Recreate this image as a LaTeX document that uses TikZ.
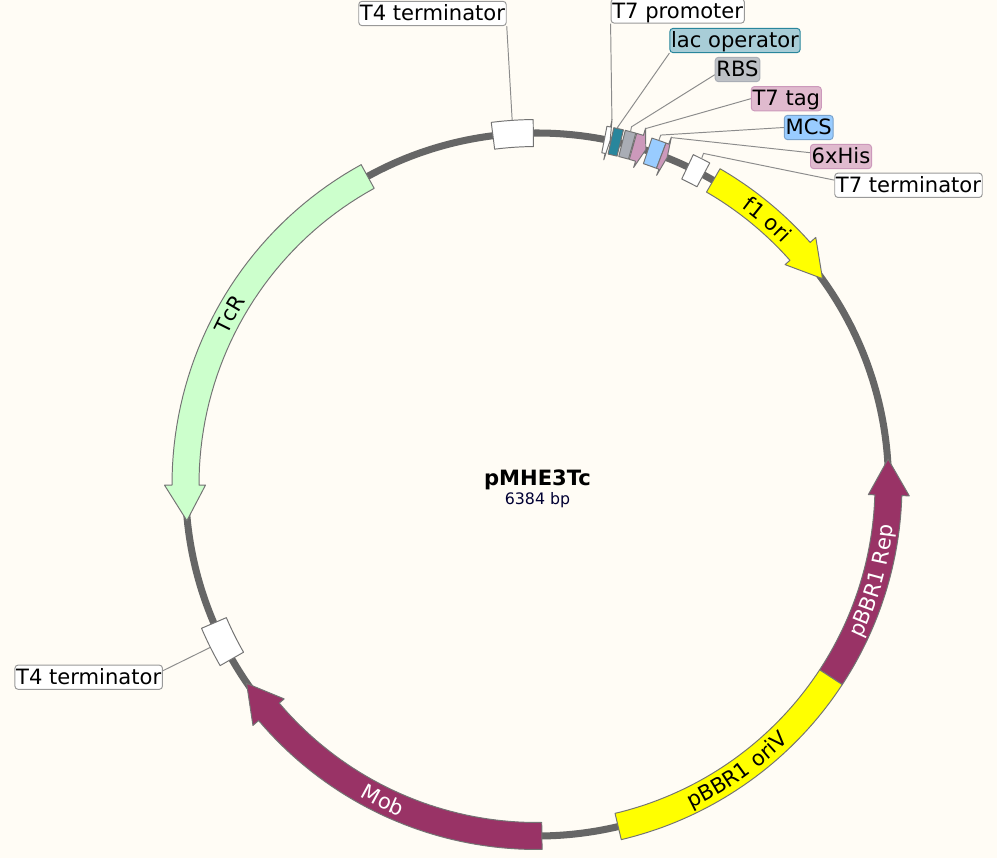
\documentclass[tikz,border=0pt]{standalone}
\usepackage{fontspec}
\setmainfont{DejaVu Sans}
\usetikzlibrary{decorations.text}
\definecolor{mPaper}{RGB}{255,252,245}
\definecolor{mBack}{RGB}{102,102,102}
\definecolor{mPurple}{RGB}{153,51,102}
\definecolor{mGreen}{RGB}{204,255,204}
\definecolor{mYellow}{RGB}{255,255,0}
\definecolor{mTeal}{RGB}{41,134,156}
\definecolor{mTealLt}{RGB}{168,205,215}
\definecolor{mGrey}{RGB}{169,173,181}
\definecolor{mGreyLt}{RGB}{190,193,198}
\definecolor{mPink}{RGB}{204,153,187}
\definecolor{mPinkLt}{RGB}{224,186,206}
\definecolor{mSky}{RGB}{153,204,255}
\definecolor{mNavy}{RGB}{0,0,51}
\newcommand{\featfont}{\fontsize{12pt}{14pt}\selectfont}
\tikzset{
  backln/.style={line width=4pt, mBack},
  featln/.style={line width=0.55pt, draw=black!55, line join=round},
  leader/.style={line width=0.55pt, black!45},
  plasmidlbl/.style={draw=black!40, line width=0.55pt, rounded corners=1.8pt, fill=white,
    font=\featfont, inner xsep=0.7pt, inner ysep=0pt, minimum height=13.8pt,
    text height=9.5pt, text depth=1.3pt},
}
\newcommand{\gx}[2]{537+(#1)*cos(#2)}
\newcommand{\gy}[2]{484.5-(#1)*sin(#2)}
% fill, start angle, end angle
\newcommand{\boxfeat}[3]{%
  \draw[featln, fill=#1]
    plot[domain=#2:#3, samples=40] ({\gx{338}{\x}},{\gy{338}{\x}})
    -- plot[domain=#3:#2, samples=40] ({\gx{365}{\x}},{\gy{365}{\x}}) -- cycle;
}
% fill, start angle, head base angle, tip angle
\newcommand{\arrowfeat}[4]{%
  \draw[featln, fill=#1]
    plot[domain=#2:#3, samples=40] ({\gx{338}{\x}},{\gy{338}{\x}})
    -- ({\gx{331.5}{#3}},{\gy{331.5}{#3}}) -- ({\gx{352}{#4}},{\gy{352}{#4}})
    -- ({\gx{372.5}{#3}},{\gy{372.5}{#3}})
    -- plot[domain=#3:#2, samples=40] ({\gx{365}{\x}},{\gy{365}{\x}}) -- cycle;
}
% colour, baseline radius, start angle, end angle, text
\newcommand{\feattext}[5]{%
  \path[decorate, decoration={text along path, text align=center,
      text={|\featfont\color{#1}|#5}}]
    plot[domain=#3:#4, samples=50] ({\gx{#2}{\x}},{\gy{#2}{\x}});
}

\begin{document}
\begin{tikzpicture}[x=0.02cm,y=-0.02cm]
    \useasboundingbox (0,0) rectangle (997,858);
    \fill[mPaper] (0,0) rectangle (997,858);
    % backbone
    \draw[backln] (537,484.5) circle[radius=351.5];
    % large features
    \arrowfeat{mYellow}{59.9}{41.55}{35.8}
    \arrowfeat{mPurple}{-33.25}{-1.75}{4.15}
    \boxfeat{mYellow}{-76.65}{-33.25}
    \arrowfeat{mPurple}{-89.2}{-139.7}{-145.6}
    \arrowfeat{mGreen}{118.8}{180.1}{185.9}
    % terminators
    \foreach \a/\b in {90.6/97.2, 61.75/64.65, 203.2/209.75} {
      \boxfeat{white}{\a}{\b}
    }
    % small features near the promoter
    \arrowfeat{white}{78.95}{78.38}{78.0}
    \boxfeat{mTeal}{76.3}{77.85}
    \boxfeat{mGrey}{74.3}{76.0}
    \arrowfeat{mPink}{74.15}{73.05}{72.0}
    \boxfeat{mSky}{69.3}{71.65}
    \arrowfeat{mPink}{69.3}{68.85}{68.3}
    % feature names
    \feattext{black}{344}{69}{29}{f1 ori}
    \feattext{black}{344}{171}{131}{TcR}
    \feattext{white}{359}{-40}{8}{pBBR1 Rep}
    \feattext{black}{359}{-80}{-30}{pBBR1 oriV}
    \feattext{white}{359}{224}{264}{Mob}
    % centre
    \node[font=\featfont\bfseries] (title) at (537.5,480) {pMHE3Tc};
    \node[font=\fontsize{9pt}{11pt}\selectfont, mNavy] (size) at (537.5,500.5) {6384 bp};
    % labels
    \node[plasmidlbl] (lblTopT) at (432.5,13.5) {T4 terminator};
    \node[plasmidlbl] (lblProm) at (677.7,11) {T7 promoter};
    \node[plasmidlbl, fill=mTealLt, draw=mTeal] (lblLac) at (735,40.5) {lac operator};
    \node[plasmidlbl, fill=mGreyLt, draw=mGrey] (lblRbs) at (737.5,69.5) {RBS};
    \node[plasmidlbl, fill=mPinkLt, draw=mPink] (lblTag) at (786.3,98.7) {T7 tag};
    \node[plasmidlbl, fill=mSky, draw=mSky!80!black] (lblMcs) at (808.7,127.5) {MCS};
    \node[plasmidlbl, fill=mPinkLt, draw=mPink] (lblHis) at (841,156.5) {6xHis};
    \node[plasmidlbl] (lblTerm) at (908.5,185.3) {T7 terminator};
    \node[plasmidlbl] (lblLeftT) at (88.7,677.2) {T4 terminator};
    % leader ends
    \coordinate (tipTopT) at ({\gx{365}{93.9}},{\gy{365}{93.9}});
    \coordinate (tipProm) at ({\gx{372}{78.38}},{\gy{372}{78.38}});
    \coordinate (tipLac) at ({\gx{366}{77.3}},{\gy{366}{77.3}});
    \coordinate (endLac) at ({\gx{365}{77.05}},{\gy{365}{77.05}});
    \coordinate (tipRbs) at ({\gx{370}{75.2}},{\gy{370}{75.2}});
    \coordinate (endRbs) at ({\gx{365}{75.15}},{\gy{365}{75.15}});
    \coordinate (tipTag) at ({\gx{372}{73.05}},{\gy{372}{73.05}});
    \coordinate (tipMcs) at ({\gx{370.7}{70.5}},{\gy{370.7}{70.5}});
    \coordinate (endMcs) at ({\gx{365}{70.5}},{\gy{365}{70.5}});
    \coordinate (tipHis) at ({\gx{372}{68.85}},{\gy{372}{68.85}});
    \coordinate (tipTerm) at ({\gx{370.6}{63.3}},{\gy{370.6}{63.3}});
    \coordinate (endTerm) at ({\gx{365}{63.2}},{\gy{365}{63.2}});
    \coordinate (tipLeftT) at ({\gx{365.5}{206.5}},{\gy{365.5}{206.5}});
    % leaders
    \draw[leader] (lblTopT.south east) -- (tipTopT);
    \draw[leader] (lblProm.south west) -- (tipProm);
    \draw[leader] (lblLac.south west) -- (tipLac) -- (endLac);
    \draw[leader] (lblRbs.193) -- (tipRbs) -- (endRbs);
    \draw[leader] (lblTag.west) -- (tipTag);
    \draw[leader] (lblMcs.west) -- (tipMcs) -- (endMcs);
    \draw[leader] (lblHis.173) -- (tipHis);
    \draw[leader] (lblTerm.176) -- (tipTerm) -- (endTerm);
    \draw[leader] (lblLeftT.5) -- (tipLeftT);
\end{tikzpicture}
\end{document}
